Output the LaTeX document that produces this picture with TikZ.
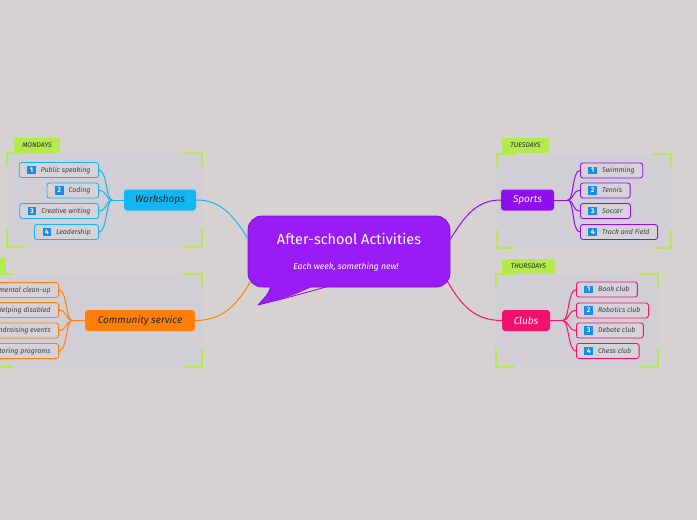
\documentclass[tikz,border=0pt]{standalone}
\usepackage{fontspec}
\setmainfont{Fira Sans}
\definecolor{bgcol}{HTML}{D6D2D1}
\definecolor{grpcol}{HTML}{D2CED6}
\definecolor{subcol}{HTML}{D6D2DA}
\definecolor{limecol}{HTML}{B4EA4E}
\definecolor{wscol}{HTML}{12B6F2}
\definecolor{cscol}{HTML}{FF7F0A}
\definecolor{spcol}{HTML}{8E0EF0}
\definecolor{clcol}{HTML}{F2126E}
\definecolor{centcol}{HTML}{9A1CF5}
\definecolor{centedge}{HTML}{8410E0}
\definecolor{badgeblue}{HTML}{1B8BE6}
\newcommand{\badge}[1]{{\setlength{\fboxsep}{1.6pt}\colorbox{badgeblue}{\makebox[5.4pt]{\color{white}\fontsize{7}{7}\selectfont\bfseries\upshape #1}}}}
\newcommand{\brackets}[4]{%
	\draw[limecol, line width=1.4pt] (#1,#2+12) -- (#1,#2) -- (#1+18,#2);
	\draw[limecol, line width=1.4pt] (#3-18,#2) -- (#3,#2) -- (#3,#2+12);
	\draw[limecol, line width=1.4pt] (#1,#4-18) -- (#1,#4) -- (#1+18,#4);
	\draw[limecol, line width=1.4pt] (#3-18,#4) -- (#3,#4) -- (#3,#4-18);}
\begin{document}
\begin{tikzpicture}[x=1pt, y=-1pt, line join=round, line cap=round,
	day/.style={fill=limecol, inner sep=0pt, minimum height=15pt, font=\itshape\fontsize{6.8}{7}\selectfont, text=black!85},
	topic/.style={rounded corners=3pt, minimum height=21pt, inner sep=0pt, font=\itshape\fontsize{10}{11}\selectfont},
	sub/.style={rounded corners=2.5pt, draw=#1, line width=0.9pt, fill=subcol, minimum height=15pt, inner xsep=8pt, inner ysep=0pt, font=\itshape\fontsize{7}{8}\selectfont, text=black!75},
	link/.style={draw=#1, line width=1pt}]
	\useasboundingbox (0,0) rectangle (697,520);
	\fill[bgcol] (0,0) rectangle (697,520);
	\clip (0,0) rectangle (697,520);
	\fill[grpcol] (7,153) rectangle (202,247);
	\fill[grpcol] (-5,274) rectangle (202,367);
	\fill[grpcol] (497,154) rectangle (671,248);
	\fill[grpcol] (496,274) rectangle (658,367);
	\brackets{7}{153}{202}{247}
	\brackets{-5}{274}{202}{367}
	\brackets{497}{154}{671}{248}
	\brackets{496}{274}{658}{367}
	\node[day, minimum width=46pt] (mon) at (37,145.5) {MONDAYS};
	\node[day, minimum width=58pt] (wed) at (-23,265) {WEDNESDAYS};
	\node[day, minimum width=47pt] (tue) at (525.5,145.5) {TUESDAYS};
	\node[day, minimum width=53pt] (thu) at (528.5,266) {THURSDAYS};
	\node[topic, fill=wscol, minimum width=72pt, text=black!85] (ws) at (160,200) {Workshops};
	\node[topic, fill=cscol, minimum width=110pt, text=black!85] (cs) at (140,320.5) {Community service};
	\node[topic, fill=spcol, minimum width=53pt, text=white] (sp) at (527.5,200) {Sports};
	\node[topic, fill=clcol, minimum width=48pt, text=white] (cl) at (526,320.5) {Clubs};
	\node[fill=centcol, draw=centedge, line width=0.8pt, rounded corners=14pt, minimum width=202pt, minimum height=71pt] (center) at (349,251.5) {};
	\fill[centcol] (272,280) .. controls (268,294) .. (258,305) .. controls (290,297) .. (327,280) -- cycle;
	\draw[centedge, line width=0.8pt] (273,287) .. controls (268,294) .. (258,305) .. controls (290,297) .. (326,287);
	\node[text=white, font=\fontsize{14.5}{16}\selectfont] (title) at (349,239) {After-school Activities};
	\node[text=white, font=\itshape\fontsize{8.6}{10}\selectfont] (note) at (346,267) {Each week, something new!};
	\draw[link=wscol] (ws.east) .. controls +(25,0) and +(-14,-22) .. ([yshift=13.5pt]center.west);
	\draw[link=cscol] (cs.east) .. controls +(30,0) and +(-12,20) .. ([xshift=3pt,yshift=6pt]center.south west);
	\draw[link=spcol] (sp.west) .. controls +(-25,0) and +(14,-22) .. ([yshift=12.5pt]center.east);
	\draw[link=clcol] (cl.west) .. controls +(-30,0) and +(12,20) .. ([xshift=-3pt,yshift=6pt]center.south east);
	\node[sub=wscol, anchor=east] (ws1) at (99,170) {\badge{1}\hspace{5pt}Public speaking};
	\node[sub=wscol, anchor=east] (ws2) at (99,190.5) {\badge{2}\hspace{5pt}Coding};
	\node[sub=wscol, anchor=east] (ws3) at (99,211) {\badge{3}\hspace{5pt}Creative writing};
	\node[sub=wscol, anchor=east] (ws4) at (99,232) {\badge{4}\hspace{5pt}Leadership};
	\node[sub=cscol, anchor=east] (cs1) at (59,290) {\badge{1}\hspace{5pt}Environmental clean-up};
	\node[sub=cscol, anchor=east] (cs2) at (59,310) {\badge{2}\hspace{5pt}Helping disabled};
	\node[sub=cscol, anchor=east] (cs3) at (59,330.5) {\badge{3}\hspace{5pt}Fundraising events};
	\node[sub=cscol, anchor=east] (cs4) at (59,351) {\badge{4}\hspace{5pt}Tutoring programs};
	\node[sub=spcol, anchor=west] (sp1) at (580,170.5) {\badge{1}\hspace{5pt}Swimming};
	\node[sub=spcol, anchor=west] (sp2) at (580,190.5) {\badge{2}\hspace{5pt}Tennis};
	\node[sub=spcol, anchor=west] (sp3) at (580,211) {\badge{3}\hspace{5pt}Soccer};
	\node[sub=spcol, anchor=west] (sp4) at (580,232) {\badge{4}\hspace{5pt}Track and Field};
	\node[sub=clcol, anchor=west] (cl1) at (576,289.5) {\badge{1}\hspace{5pt}Book club};
	\node[sub=clcol, anchor=west] (cl2) at (576,310.5) {\badge{2}\hspace{5pt}Robotics club};
	\node[sub=clcol, anchor=west] (cl3) at (576,330.5) {\badge{3}\hspace{5pt}Debate club};
	\node[sub=clcol, anchor=west] (cl4) at (576,351) {\badge{4}\hspace{5pt}Chess club};
	\coordinate (wsj) at (112,200);
	\coordinate (csj) at (72,320.5);
	\coordinate (spj) at (568,200);
	\coordinate (clj) at (563,320.5);
	\draw[link=wscol] (ws.west) -- (wsj);
	\draw[link=cscol] (cs.west) -- (csj);
	\draw[link=spcol] (sp.east) -- (spj);
	\draw[link=clcol] (cl.east) -- (clj);
	\foreach \i in {1,...,4}{
		\draw[link=wscol] (wsj) .. controls +(-6,0) and +(8,0) .. (ws\i.east);
		\draw[link=cscol] (csj) .. controls +(-6,0) and +(8,0) .. (cs\i.east);
		\draw[link=spcol] (spj) .. controls +(6,0) and +(-8,0) .. (sp\i.west);
		\draw[link=clcol] (clj) .. controls +(6,0) and +(-8,0) .. (cl\i.west);
	}
\end{tikzpicture}
\end{document}
